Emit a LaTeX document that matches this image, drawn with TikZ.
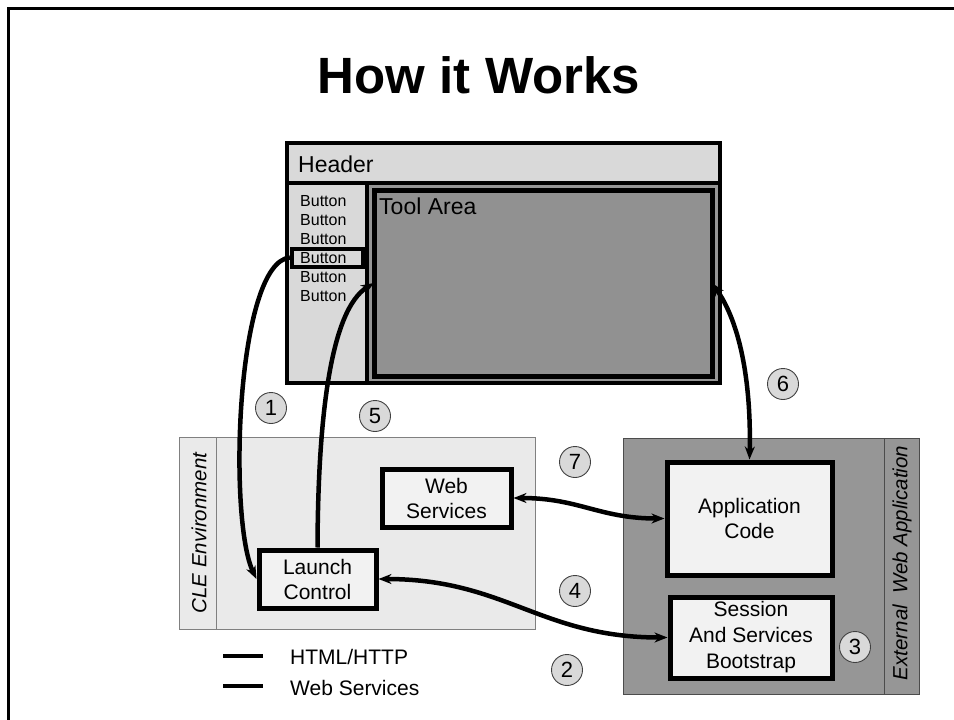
\documentclass[tikz,border=0pt]{standalone}
\usepackage{fontspec}
\setmainfont{Liberation Sans}
\usetikzlibrary{arrows.meta}

\definecolor{panelgray}{HTML}{D9D9D9}
\definecolor{toolgray}{HTML}{969696}
\definecolor{toolinner}{HTML}{919191}
\definecolor{clegray}{HTML}{EAEAEA}
\definecolor{boxfill}{HTML}{F2F2F2}
\definecolor{thinedge}{HTML}{808080}

\tikzset{
  x=1pt, y=-1pt,
  panel/.style={draw=black, line width=4.5pt, inner sep=0pt, outer sep=0pt},
  comp/.style={draw=black, line width=5pt, fill=boxfill, inner sep=0pt,
    align=center, font=\fontsize{21}{25}\selectfont},
  region/.style={draw=thinedge, line width=0.8pt, inner sep=0pt, outer sep=0pt},
  num/.style={circle, draw=black!75, line width=0.9pt, fill=panelgray,
    minimum size=31pt, inner sep=0pt, font=\fontsize{22}{22}\selectfont},
  btntext/.style={anchor=west, inner sep=0pt, font=\fontsize{16}{16}\selectfont},
  link/.style={line width=4.5pt, draw=black},
  tip/.style={-{Stealth[length=13pt,width=10pt]}},
  twotip/.style={{Stealth[length=13pt,width=10pt]}-{Stealth[length=13pt,width=10pt]}},
  lbl/.style={anchor=west, inner sep=0pt, font=\fontsize{21}{21}\selectfont},
}

\begin{document}
\begin{tikzpicture}
\useasboundingbox (0,0) rectangle (954,720);
\fill[white] (0,0) rectangle (954,720);

% page frame
\draw[line width=3pt] (8,720) -- (8,8) -- (954,8);

% title
\node[font=\fontsize{51}{51}\selectfont\bfseries, anchor=base] (title) at (479,93) {How it Works};

% browser window mock-up
\node[panel, fill=panelgray, minimum width=433pt, minimum height=40pt] (header) at (503.5,163) {};
\node[anchor=west, inner sep=0pt, font=\fontsize{23}{23}\selectfont] (headertxt) at (298,164) {Header};
\node[panel, fill=panelgray, minimum width=80pt, minimum height=200pt] (nav) at (327,283) {};
\node[panel, fill=toolgray, minimum width=353pt, minimum height=200pt] (toolouter) at (543.5,283) {};
\node[panel, fill=toolinner, line width=5pt, minimum width=338pt, minimum height=186pt] (tool) at (543,283) {};
\node[anchor=west, inner sep=0pt, font=\fontsize{23}{23}\selectfont] (tooltxt) at (379,206) {Tool Area};

% navigation buttons
\foreach \i/\yy in {1/201,2/220,3/239,4/258,5/277,6/296}{
  \node[btntext] (b\i) at (300,\yy) {Button};
}
\node[draw=black, line width=4pt, minimum width=71pt, minimum height=18pt, inner sep=0pt] (btn) at (327.5,257.5) {};

% CLE environment region
\node[region, fill=clegray, minimum width=356pt, minimum height=192pt] (cle) at (357,533) {};
\draw[thinedge, line width=0.8pt] (216,437) -- (216,629);
\node[rotate=90, inner sep=0pt, font=\fontsize{20.5}{20.5}\selectfont\itshape] (cletxt) at (199,533) {CLE Environment};

% external web application region
\node[region, fill=toolgray, draw=black!70, minimum width=296pt, minimum height=256pt] (ext) at (771,566) {};
\draw[black!70, line width=0.8pt] (884,438) -- (884,694);
\node[rotate=90, inner sep=0pt, font=\fontsize{20.5}{20.5}\selectfont\itshape] (exttxt) at (902,563) {External\ \ Web Application};

% components
\node[comp, minimum width=129pt, minimum height=58pt] (ws) at (446.5,498) {Web\\Services};
\node[comp, minimum width=117pt, minimum height=58pt] (launch) at (317.5,579) {Launch\\Control};
\node[comp, minimum width=165pt, minimum height=113pt] (app) at (749.5,518.5) {Application\\Code};
\node[comp, minimum width=162pt, minimum height=81pt, font=\fontsize{21}{26}\selectfont] (boot) at (751,637.5) {Session\\And Services\\Bootstrap};

% step numbers
\node[num] (n1) at (271,408) {1};
\node[num] (n2) at (567,670) {2};
\node[num] (n3) at (855,647) {3};
\node[num] (n4) at (575,591) {4};
\node[num] (n5) at (375,416) {5};
\node[num] (n6) at (783,384) {6};
\node[num] (n7) at (575,462) {7};

% connectors
\draw[link, tip] (btn.west) .. controls (236,262) and (228,520) .. (launch.west);
\draw[link, tip] (launch.north) .. controls (318,420) and (330,310) .. (tool.west);
\draw[link, twotip] (tool.east) .. controls (745,330) and (751,400) .. (app.north);
\draw[link, twotip] (ws.east) to[out=0, in=180, looseness=1.1] (app.west);
\draw[link, twotip] (launch.east) to[out=0, in=180, looseness=1.1] (boot.west);

% legend
\coordinate (lg1a) at (223,656); \coordinate (lg1b) at (263,656);
\coordinate (lg2a) at (223,686); \coordinate (lg2b) at (263,686);
\draw[link] (lg1a) -- (lg1b);
\draw[link] (lg2a) -- (lg2b);
\node[lbl] (lgt1) at (290,657) {HTML/HTTP};
\node[lbl] (lgt2) at (290,688) {Web Services};
\end{tikzpicture}
\end{document}
